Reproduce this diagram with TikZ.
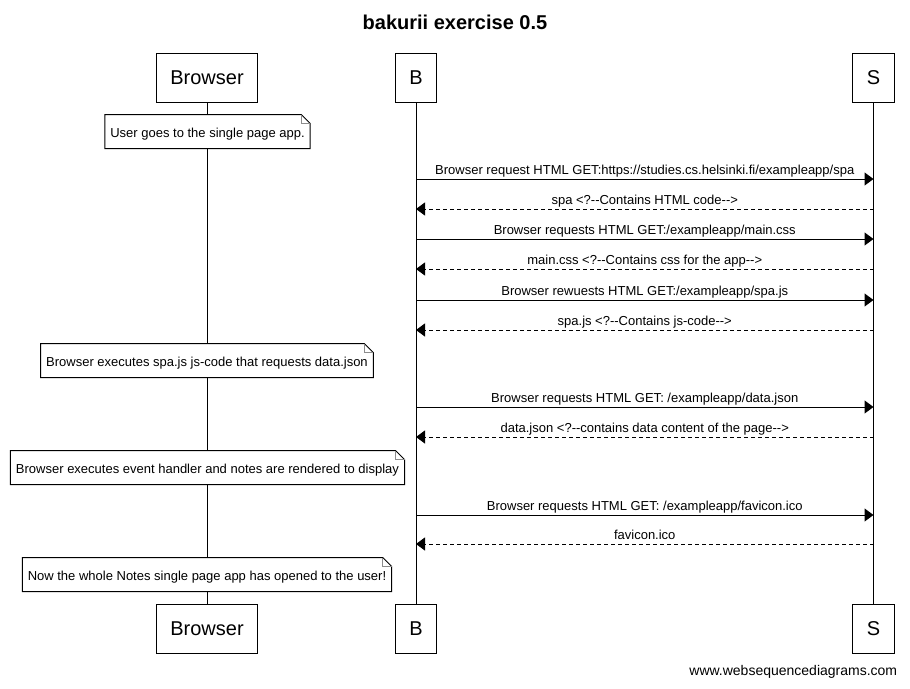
\documentclass[tikz,border=0pt]{standalone}
\usepackage{fontspec}
\setmainfont{Liberation Sans}
\usetikzlibrary{arrows.meta}
\definecolor{FoldClr}{rgb}{0.55,0.55,0.55}

\begin{document}
\begin{tikzpicture}[x=1pt,y=-1pt,line width=1pt,
  actor/.style={draw,fill=white,font=\fontsize{20}{24}\selectfont,minimum height=49pt,inner xsep=14pt},
  note/.style={fill=white,font=\fontsize{13}{15}\selectfont,minimum height=33pt,inner xsep=5pt,
    text height=13pt,text depth=1.4pt},
  msg/.style={above,font=\fontsize{13}{15}\selectfont,inner sep=1pt,text depth=3pt},
  req/.style={-{Triangle[length=9pt,width=13pt]}},
  resp/.style={req,dash pattern=on 4pt off 3pt}]
\useasboundingbox (0,0) rectangle (910,688);

\node[font=\bfseries\fontsize{20}{24}\selectfont] (title) at (455,22) {bakurii exercise 0.5};

\node[actor] (brTop) at (207,77.5) {Browser};
\node[actor] (bTop) at (416,77.5) {B};
\node[actor] (sTop) at (873.5,77.5) {S};
\node[actor] (brBot) at (207,628.5) {Browser};
\node[actor] (bBot) at (416,628.5) {B};
\node[actor] (sBot) at (873.5,628.5) {S};

\draw (brTop) -- (brBot);
\draw (bTop) -- (bBot);
\draw (sTop) -- (sBot);

\foreach \n/\y in {1/179,2/209,3/239,4/269,5/300,6/330,7/407,8/437,9/515,10/544}{
  \coordinate (B\n) at (416,\y);
  \coordinate (S\n) at (873.5,\y);
}

\node[note] (n1) at (207.5,131.5) {User goes to the single page app.};
\node[note] (n2) at (207,360.5) {Browser executes spa.js js-code that requests data.json};
\node[note] (n3) at (207.5,467.5) {Browser executes event handler and notes are rendered to display};
\node[note] (n4) at (207,574.5) {Now the whole Notes single page app has opened to the user!};

\foreach \n in {n1,n2,n3,n4}{
  \draw (\n.north west) -- ([xshift=-9pt]\n.north east) -- ([yshift=-9pt]\n.north east)
    -- (\n.south east) -- (\n.south west) -- cycle;
  \draw[FoldClr] ([xshift=-9pt]\n.north east) |- ([yshift=-9pt]\n.north east);
}

\draw[req] (B1) -- node[msg] {Browser request HTML GET:https://studies.cs.helsinki.fi/exampleapp/spa} (S1);
\draw[resp] (S2) -- node[msg] {spa <?-{}-Contains HTML code-{}->} (B2);
\draw[req] (B3) -- node[msg] {Browser requests HTML GET:/exampleapp/main.css} (S3);
\draw[resp] (S4) -- node[msg] {main.css <?-{}-Contains css for the app-{}->} (B4);
\draw[req] (B5) -- node[msg] {Browser rewuests HTML GET:/exampleapp/spa.js} (S5);
\draw[resp] (S6) -- node[msg] {spa.js <?-{}-Contains js-code-{}->} (B6);
\draw[req] (B7) -- node[msg] {Browser requests HTML GET: /exampleapp/data.json} (S7);
\draw[resp] (S8) -- node[msg] {data.json <?-{}-contains data content of the page-{}->} (B8);
\draw[req] (B9) -- node[msg] {Browser requests HTML GET: /exampleapp/favicon.ico} (S9);
\draw[resp] (S10) -- node[msg] {favicon.ico} (B10);

\node[anchor=east,font=\fontsize{14}{16}\selectfont] (footer) at (901,672) {www.websequencediagrams.com};

\end{tikzpicture}
\end{document}
